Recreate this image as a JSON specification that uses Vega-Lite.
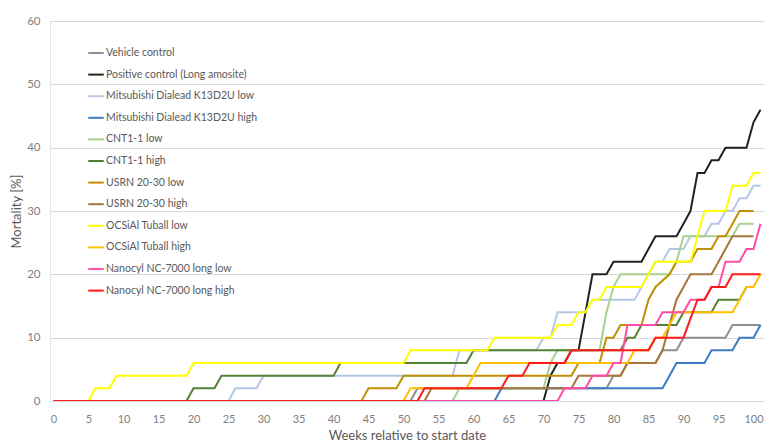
{
  "$schema": "https://vega.github.io/schema/vega-lite/v6.json",
  "width": 714,
  "height": 380,
  "autosize": {"type": "none"},
  "padding": {"left": 50, "top": 21, "right": 20, "bottom": 43},
  "background": "white",
  "config": {"view": {"stroke": null}, "font": "Lato"},
  "data": {"values": [
    {"series": "Vehicle control", "week": 0, "mortality": 0},
    {"series": "Vehicle control", "week": 51, "mortality": 0},
    {"series": "Vehicle control", "week": 52, "mortality": 2},
    {"series": "Vehicle control", "week": 79, "mortality": 2},
    {"series": "Vehicle control", "week": 80, "mortality": 4},
    {"series": "Vehicle control", "week": 81, "mortality": 4},
    {"series": "Vehicle control", "week": 82, "mortality": 6},
    {"series": "Vehicle control", "week": 86, "mortality": 6},
    {"series": "Vehicle control", "week": 87, "mortality": 8},
    {"series": "Vehicle control", "week": 89, "mortality": 8},
    {"series": "Vehicle control", "week": 90, "mortality": 10},
    {"series": "Vehicle control", "week": 96, "mortality": 10},
    {"series": "Vehicle control", "week": 97, "mortality": 12},
    {"series": "Vehicle control", "week": 101, "mortality": 12},

    {"series": "Positive control (Long amosite)", "week": 0, "mortality": 0},
    {"series": "Positive control (Long amosite)", "week": 70, "mortality": 0},
    {"series": "Positive control (Long amosite)", "week": 71, "mortality": 4},
    {"series": "Positive control (Long amosite)", "week": 72, "mortality": 6},
    {"series": "Positive control (Long amosite)", "week": 73, "mortality": 6},
    {"series": "Positive control (Long amosite)", "week": 74, "mortality": 8},
    {"series": "Positive control (Long amosite)", "week": 75, "mortality": 8},
    {"series": "Positive control (Long amosite)", "week": 76, "mortality": 14},
    {"series": "Positive control (Long amosite)", "week": 77, "mortality": 20},
    {"series": "Positive control (Long amosite)", "week": 79, "mortality": 20},
    {"series": "Positive control (Long amosite)", "week": 80, "mortality": 22},
    {"series": "Positive control (Long amosite)", "week": 84, "mortality": 22},
    {"series": "Positive control (Long amosite)", "week": 85, "mortality": 24},
    {"series": "Positive control (Long amosite)", "week": 86, "mortality": 26},
    {"series": "Positive control (Long amosite)", "week": 89, "mortality": 26},
    {"series": "Positive control (Long amosite)", "week": 90, "mortality": 28},
    {"series": "Positive control (Long amosite)", "week": 91, "mortality": 30},
    {"series": "Positive control (Long amosite)", "week": 92, "mortality": 36},
    {"series": "Positive control (Long amosite)", "week": 93, "mortality": 36},
    {"series": "Positive control (Long amosite)", "week": 94, "mortality": 38},
    {"series": "Positive control (Long amosite)", "week": 95, "mortality": 38},
    {"series": "Positive control (Long amosite)", "week": 96, "mortality": 40},
    {"series": "Positive control (Long amosite)", "week": 99, "mortality": 40},
    {"series": "Positive control (Long amosite)", "week": 100, "mortality": 44},
    {"series": "Positive control (Long amosite)", "week": 101, "mortality": 46},

    {"series": "Mitsubishi Dialead K13D2U low", "week": 0, "mortality": 0},
    {"series": "Mitsubishi Dialead K13D2U low", "week": 25, "mortality": 0},
    {"series": "Mitsubishi Dialead K13D2U low", "week": 26, "mortality": 2},
    {"series": "Mitsubishi Dialead K13D2U low", "week": 29, "mortality": 2},
    {"series": "Mitsubishi Dialead K13D2U low", "week": 30, "mortality": 4},
    {"series": "Mitsubishi Dialead K13D2U low", "week": 57, "mortality": 4},
    {"series": "Mitsubishi Dialead K13D2U low", "week": 58, "mortality": 8},
    {"series": "Mitsubishi Dialead K13D2U low", "week": 69, "mortality": 8},
    {"series": "Mitsubishi Dialead K13D2U low", "week": 70, "mortality": 10},
    {"series": "Mitsubishi Dialead K13D2U low", "week": 71, "mortality": 10},
    {"series": "Mitsubishi Dialead K13D2U low", "week": 72, "mortality": 14},
    {"series": "Mitsubishi Dialead K13D2U low", "week": 76, "mortality": 14},
    {"series": "Mitsubishi Dialead K13D2U low", "week": 77, "mortality": 16},
    {"series": "Mitsubishi Dialead K13D2U low", "week": 83, "mortality": 16},
    {"series": "Mitsubishi Dialead K13D2U low", "week": 84, "mortality": 18},
    {"series": "Mitsubishi Dialead K13D2U low", "week": 85, "mortality": 20},
    {"series": "Mitsubishi Dialead K13D2U low", "week": 86, "mortality": 22},
    {"series": "Mitsubishi Dialead K13D2U low", "week": 87, "mortality": 22},
    {"series": "Mitsubishi Dialead K13D2U low", "week": 88, "mortality": 24},
    {"series": "Mitsubishi Dialead K13D2U low", "week": 90, "mortality": 24},
    {"series": "Mitsubishi Dialead K13D2U low", "week": 91, "mortality": 26},
    {"series": "Mitsubishi Dialead K13D2U low", "week": 93, "mortality": 26},
    {"series": "Mitsubishi Dialead K13D2U low", "week": 94, "mortality": 28},
    {"series": "Mitsubishi Dialead K13D2U low", "week": 95, "mortality": 28},
    {"series": "Mitsubishi Dialead K13D2U low", "week": 96, "mortality": 30},
    {"series": "Mitsubishi Dialead K13D2U low", "week": 97, "mortality": 30},
    {"series": "Mitsubishi Dialead K13D2U low", "week": 98, "mortality": 32},
    {"series": "Mitsubishi Dialead K13D2U low", "week": 99, "mortality": 32},
    {"series": "Mitsubishi Dialead K13D2U low", "week": 100, "mortality": 34},
    {"series": "Mitsubishi Dialead K13D2U low", "week": 101, "mortality": 34},

    {"series": "Mitsubishi Dialead K13D2U high", "week": 0, "mortality": 0},
    {"series": "Mitsubishi Dialead K13D2U high", "week": 63, "mortality": 0},
    {"series": "Mitsubishi Dialead K13D2U high", "week": 64, "mortality": 2},
    {"series": "Mitsubishi Dialead K13D2U high", "week": 87, "mortality": 2},
    {"series": "Mitsubishi Dialead K13D2U high", "week": 88, "mortality": 4},
    {"series": "Mitsubishi Dialead K13D2U high", "week": 89, "mortality": 6},
    {"series": "Mitsubishi Dialead K13D2U high", "week": 93, "mortality": 6},
    {"series": "Mitsubishi Dialead K13D2U high", "week": 94, "mortality": 8},
    {"series": "Mitsubishi Dialead K13D2U high", "week": 97, "mortality": 8},
    {"series": "Mitsubishi Dialead K13D2U high", "week": 98, "mortality": 10},
    {"series": "Mitsubishi Dialead K13D2U high", "week": 100, "mortality": 10},
    {"series": "Mitsubishi Dialead K13D2U high", "week": 101, "mortality": 12},

    {"series": "CNT1-1 low", "week": 0, "mortality": 0},
    {"series": "CNT1-1 low", "week": 57, "mortality": 0},
    {"series": "CNT1-1 low", "week": 58, "mortality": 2},
    {"series": "CNT1-1 low", "week": 70, "mortality": 2},
    {"series": "CNT1-1 low", "week": 71, "mortality": 6},
    {"series": "CNT1-1 low", "week": 72, "mortality": 8},
    {"series": "CNT1-1 low", "week": 78, "mortality": 8},
    {"series": "CNT1-1 low", "week": 79, "mortality": 14},
    {"series": "CNT1-1 low", "week": 80, "mortality": 18},
    {"series": "CNT1-1 low", "week": 81, "mortality": 20},
    {"series": "CNT1-1 low", "week": 88, "mortality": 20},
    {"series": "CNT1-1 low", "week": 89, "mortality": 22},
    {"series": "CNT1-1 low", "week": 90, "mortality": 26},
    {"series": "CNT1-1 low", "week": 97, "mortality": 26},
    {"series": "CNT1-1 low", "week": 98, "mortality": 28},
    {"series": "CNT1-1 low", "week": 100, "mortality": 28},

    {"series": "CNT1-1 high", "week": 0, "mortality": 0},
    {"series": "CNT1-1 high", "week": 19, "mortality": 0},
    {"series": "CNT1-1 high", "week": 20, "mortality": 2},
    {"series": "CNT1-1 high", "week": 23, "mortality": 2},
    {"series": "CNT1-1 high", "week": 24, "mortality": 4},
    {"series": "CNT1-1 high", "week": 40, "mortality": 4},
    {"series": "CNT1-1 high", "week": 41, "mortality": 6},
    {"series": "CNT1-1 high", "week": 59, "mortality": 6},
    {"series": "CNT1-1 high", "week": 60, "mortality": 8},
    {"series": "CNT1-1 high", "week": 81, "mortality": 8},
    {"series": "CNT1-1 high", "week": 82, "mortality": 10},
    {"series": "CNT1-1 high", "week": 83, "mortality": 10},
    {"series": "CNT1-1 high", "week": 84, "mortality": 12},
    {"series": "CNT1-1 high", "week": 89, "mortality": 12},
    {"series": "CNT1-1 high", "week": 90, "mortality": 14},
    {"series": "CNT1-1 high", "week": 94, "mortality": 14},
    {"series": "CNT1-1 high", "week": 95, "mortality": 16},
    {"series": "CNT1-1 high", "week": 98, "mortality": 16},
    {"series": "CNT1-1 high", "week": 99, "mortality": 18},
    {"series": "CNT1-1 high", "week": 100, "mortality": 18},

    {"series": "USRN 20-30 low", "week": 0, "mortality": 0},
    {"series": "USRN 20-30 low", "week": 44, "mortality": 0},
    {"series": "USRN 20-30 low", "week": 45, "mortality": 2},
    {"series": "USRN 20-30 low", "week": 49, "mortality": 2},
    {"series": "USRN 20-30 low", "week": 50, "mortality": 4},
    {"series": "USRN 20-30 low", "week": 74, "mortality": 4},
    {"series": "USRN 20-30 low", "week": 75, "mortality": 6},
    {"series": "USRN 20-30 low", "week": 78, "mortality": 6},
    {"series": "USRN 20-30 low", "week": 79, "mortality": 10},
    {"series": "USRN 20-30 low", "week": 80, "mortality": 10},
    {"series": "USRN 20-30 low", "week": 81, "mortality": 12},
    {"series": "USRN 20-30 low", "week": 84, "mortality": 12},
    {"series": "USRN 20-30 low", "week": 85, "mortality": 16},
    {"series": "USRN 20-30 low", "week": 86, "mortality": 18},
    {"series": "USRN 20-30 low", "week": 88, "mortality": 20},
    {"series": "USRN 20-30 low", "week": 89, "mortality": 22},
    {"series": "USRN 20-30 low", "week": 91, "mortality": 22},
    {"series": "USRN 20-30 low", "week": 92, "mortality": 24},
    {"series": "USRN 20-30 low", "week": 94, "mortality": 24},
    {"series": "USRN 20-30 low", "week": 95, "mortality": 26},
    {"series": "USRN 20-30 low", "week": 96, "mortality": 26},
    {"series": "USRN 20-30 low", "week": 97, "mortality": 28},
    {"series": "USRN 20-30 low", "week": 98, "mortality": 30},
    {"series": "USRN 20-30 low", "week": 100, "mortality": 30},

    {"series": "USRN 20-30 high", "week": 0, "mortality": 0},
    {"series": "USRN 20-30 high", "week": 53, "mortality": 0},
    {"series": "USRN 20-30 high", "week": 54, "mortality": 2},
    {"series": "USRN 20-30 high", "week": 74, "mortality": 2},
    {"series": "USRN 20-30 high", "week": 75, "mortality": 4},
    {"series": "USRN 20-30 high", "week": 81, "mortality": 4},
    {"series": "USRN 20-30 high", "week": 82, "mortality": 6},
    {"series": "USRN 20-30 high", "week": 86, "mortality": 6},
    {"series": "USRN 20-30 high", "week": 87, "mortality": 8},
    {"series": "USRN 20-30 high", "week": 88, "mortality": 12},
    {"series": "USRN 20-30 high", "week": 89, "mortality": 16},
    {"series": "USRN 20-30 high", "week": 90, "mortality": 18},
    {"series": "USRN 20-30 high", "week": 91, "mortality": 20},
    {"series": "USRN 20-30 high", "week": 94, "mortality": 20},
    {"series": "USRN 20-30 high", "week": 95, "mortality": 22},
    {"series": "USRN 20-30 high", "week": 96, "mortality": 24},
    {"series": "USRN 20-30 high", "week": 97, "mortality": 26},
    {"series": "USRN 20-30 high", "week": 100, "mortality": 26},

    {"series": "OCSiAl Tuball low", "week": 0, "mortality": 0},
    {"series": "OCSiAl Tuball low", "week": 5, "mortality": 0},
    {"series": "OCSiAl Tuball low", "week": 6, "mortality": 2},
    {"series": "OCSiAl Tuball low", "week": 8, "mortality": 2},
    {"series": "OCSiAl Tuball low", "week": 9, "mortality": 4},
    {"series": "OCSiAl Tuball low", "week": 19, "mortality": 4},
    {"series": "OCSiAl Tuball low", "week": 20, "mortality": 6},
    {"series": "OCSiAl Tuball low", "week": 50, "mortality": 6},
    {"series": "OCSiAl Tuball low", "week": 51, "mortality": 8},
    {"series": "OCSiAl Tuball low", "week": 62, "mortality": 8},
    {"series": "OCSiAl Tuball low", "week": 63, "mortality": 10},
    {"series": "OCSiAl Tuball low", "week": 71, "mortality": 10},
    {"series": "OCSiAl Tuball low", "week": 72, "mortality": 12},
    {"series": "OCSiAl Tuball low", "week": 74, "mortality": 12},
    {"series": "OCSiAl Tuball low", "week": 75, "mortality": 14},
    {"series": "OCSiAl Tuball low", "week": 76, "mortality": 14},
    {"series": "OCSiAl Tuball low", "week": 77, "mortality": 16},
    {"series": "OCSiAl Tuball low", "week": 78, "mortality": 16},
    {"series": "OCSiAl Tuball low", "week": 79, "mortality": 18},
    {"series": "OCSiAl Tuball low", "week": 84, "mortality": 18},
    {"series": "OCSiAl Tuball low", "week": 85, "mortality": 20},
    {"series": "OCSiAl Tuball low", "week": 86, "mortality": 22},
    {"series": "OCSiAl Tuball low", "week": 91, "mortality": 22},
    {"series": "OCSiAl Tuball low", "week": 92, "mortality": 26},
    {"series": "OCSiAl Tuball low", "week": 93, "mortality": 30},
    {"series": "OCSiAl Tuball low", "week": 96, "mortality": 30},
    {"series": "OCSiAl Tuball low", "week": 97, "mortality": 34},
    {"series": "OCSiAl Tuball low", "week": 99, "mortality": 34},
    {"series": "OCSiAl Tuball low", "week": 100, "mortality": 36},
    {"series": "OCSiAl Tuball low", "week": 101, "mortality": 36},

    {"series": "OCSiAl Tuball high", "week": 0, "mortality": 0},
    {"series": "OCSiAl Tuball high", "week": 50, "mortality": 0},
    {"series": "OCSiAl Tuball high", "week": 51, "mortality": 2},
    {"series": "OCSiAl Tuball high", "week": 59, "mortality": 2},
    {"series": "OCSiAl Tuball high", "week": 60, "mortality": 4},
    {"series": "OCSiAl Tuball high", "week": 61, "mortality": 6},
    {"series": "OCSiAl Tuball high", "week": 82, "mortality": 6},
    {"series": "OCSiAl Tuball high", "week": 83, "mortality": 8},
    {"series": "OCSiAl Tuball high", "week": 85, "mortality": 8},
    {"series": "OCSiAl Tuball high", "week": 86, "mortality": 10},
    {"series": "OCSiAl Tuball high", "week": 87, "mortality": 10},
    {"series": "OCSiAl Tuball high", "week": 88, "mortality": 12},
    {"series": "OCSiAl Tuball high", "week": 89, "mortality": 14},
    {"series": "OCSiAl Tuball high", "week": 97, "mortality": 14},
    {"series": "OCSiAl Tuball high", "week": 98, "mortality": 16},
    {"series": "OCSiAl Tuball high", "week": 99, "mortality": 18},
    {"series": "OCSiAl Tuball high", "week": 100, "mortality": 18},
    {"series": "OCSiAl Tuball high", "week": 101, "mortality": 20},

    {"series": "Nanocyl NC-7000 long low", "week": 0, "mortality": 0},
    {"series": "Nanocyl NC-7000 long low", "week": 72, "mortality": 0},
    {"series": "Nanocyl NC-7000 long low", "week": 73, "mortality": 2},
    {"series": "Nanocyl NC-7000 long low", "week": 76, "mortality": 2},
    {"series": "Nanocyl NC-7000 long low", "week": 77, "mortality": 4},
    {"series": "Nanocyl NC-7000 long low", "week": 79, "mortality": 4},
    {"series": "Nanocyl NC-7000 long low", "week": 80, "mortality": 6},
    {"series": "Nanocyl NC-7000 long low", "week": 81, "mortality": 6},
    {"series": "Nanocyl NC-7000 long low", "week": 82, "mortality": 12},
    {"series": "Nanocyl NC-7000 long low", "week": 86, "mortality": 12},
    {"series": "Nanocyl NC-7000 long low", "week": 87, "mortality": 14},
    {"series": "Nanocyl NC-7000 long low", "week": 90, "mortality": 14},
    {"series": "Nanocyl NC-7000 long low", "week": 91, "mortality": 16},
    {"series": "Nanocyl NC-7000 long low", "week": 93, "mortality": 16},
    {"series": "Nanocyl NC-7000 long low", "week": 94, "mortality": 18},
    {"series": "Nanocyl NC-7000 long low", "week": 95, "mortality": 18},
    {"series": "Nanocyl NC-7000 long low", "week": 96, "mortality": 22},
    {"series": "Nanocyl NC-7000 long low", "week": 98, "mortality": 22},
    {"series": "Nanocyl NC-7000 long low", "week": 99, "mortality": 24},
    {"series": "Nanocyl NC-7000 long low", "week": 100, "mortality": 24},
    {"series": "Nanocyl NC-7000 long low", "week": 101, "mortality": 28},

    {"series": "Nanocyl NC-7000 long high", "week": 0, "mortality": 0},
    {"series": "Nanocyl NC-7000 long high", "week": 52, "mortality": 0},
    {"series": "Nanocyl NC-7000 long high", "week": 53, "mortality": 2},
    {"series": "Nanocyl NC-7000 long high", "week": 64, "mortality": 2},
    {"series": "Nanocyl NC-7000 long high", "week": 65, "mortality": 4},
    {"series": "Nanocyl NC-7000 long high", "week": 67, "mortality": 4},
    {"series": "Nanocyl NC-7000 long high", "week": 68, "mortality": 6},
    {"series": "Nanocyl NC-7000 long high", "week": 73, "mortality": 6},
    {"series": "Nanocyl NC-7000 long high", "week": 74, "mortality": 8},
    {"series": "Nanocyl NC-7000 long high", "week": 85, "mortality": 8},
    {"series": "Nanocyl NC-7000 long high", "week": 86, "mortality": 10},
    {"series": "Nanocyl NC-7000 long high", "week": 90, "mortality": 10},
    {"series": "Nanocyl NC-7000 long high", "week": 91, "mortality": 13},
    {"series": "Nanocyl NC-7000 long high", "week": 92, "mortality": 16},
    {"series": "Nanocyl NC-7000 long high", "week": 93, "mortality": 16},
    {"series": "Nanocyl NC-7000 long high", "week": 94, "mortality": 18},
    {"series": "Nanocyl NC-7000 long high", "week": 96, "mortality": 18},
    {"series": "Nanocyl NC-7000 long high", "week": 97, "mortality": 20},
    {"series": "Nanocyl NC-7000 long high", "week": 101, "mortality": 20}
  ]},
  "mark": {"type": "line", "strokeWidth": 2, "interpolate": "linear", "clip": true},
  "encoding": {
    "x": {
      "field": "week", "type": "quantitative",
      "scale": {"domain": [-0.5, 101.5], "nice": false, "zero": false},
      "axis": {
        "values": [0, 5, 10, 15, 20, 25, 30, 35, 40, 45, 50, 55, 60, 65, 70, 75, 80, 85, 90, 95, 100],
        "grid": false, "ticks": false, "domainColor": "#d9d9d9", "domainWidth": 1,
        "labelColor": "#7f7f7f", "labelFontSize": 11, "labelPadding": 12,
        "title": "Weeks relative to start date", "titleFontSize": 13, "titleColor": "#595959",
        "titleFontWeight": "normal", "titlePadding": 5
      }
    },
    "y": {
      "field": "mortality", "type": "quantitative",
      "scale": {"domain": [0, 60], "nice": false},
      "axis": {
        "values": [0, 10, 20, 30, 40, 50, 60],
        "grid": true, "gridColor": "#d9d9d9", "ticks": false, "domainColor": "#e6e6e6",
        "labelColor": "#7f7f7f", "labelFontSize": 11.5, "labelPadding": 10,
        "title": "Mortality [%]", "titleFontSize": 13, "titleColor": "#595959",
        "titleFontWeight": "normal", "titlePadding": 3
      }
    },
    "color": {
      "field": "series", "type": "nominal",
      "scale": {
        "domain": ["Vehicle control", "Positive control (Long amosite)", "Mitsubishi Dialead K13D2U low", "Mitsubishi Dialead K13D2U high", "CNT1-1 low", "CNT1-1 high", "USRN 20-30 low", "USRN 20-30 high", "OCSiAl Tuball low", "OCSiAl Tuball high", "Nanocyl NC-7000 long low", "Nanocyl NC-7000 long high"],
        "range": ["#8f8f8f", "#222222", "#b4c7e7", "#3b7dc4", "#a9d18e", "#548235", "#bf9000", "#a5753a", "#ffff00", "#ffc000", "#ff4da6", "#ff1a1a"]
      },
      "legend": {
        "orient": "none", "legendX": 37, "legendY": 23, "title": null, "padding": 0,
        "symbolType": "stroke", "symbolStrokeWidth": 2, "symbolSize": 240,
        "labelFontSize": 10.5, "labelColor": "#595959", "labelOffset": 1,
        "rowPadding": 6.6, "labelLimit": 300
      }
    }
  }
}
